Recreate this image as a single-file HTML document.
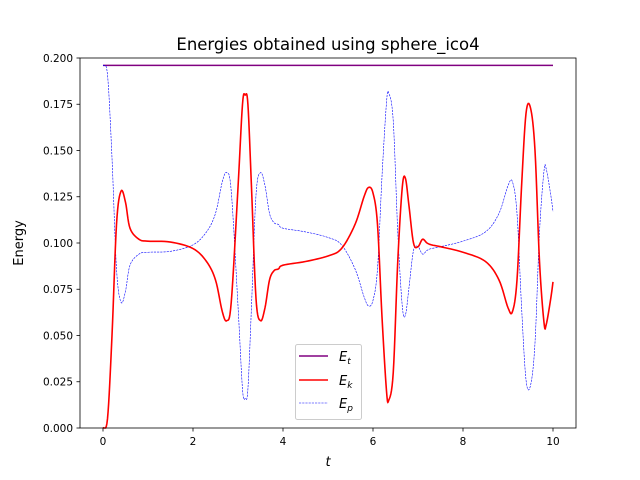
<!DOCTYPE html>
<html><head><style>body{margin:0;background:#fff}svg{display:block;font-family:"DejaVu Sans","Liberation Sans",sans-serif}</style></head>
<body>
<svg id="s" width="640" height="480" xmlns="http://www.w3.org/2000/svg">
<rect width="640" height="480" fill="#fff"/>
<text x="328" y="50" font-size="16.5" text-anchor="middle">Energies obtained using sphere_ico4</text>
<line x1="103" y1="65.4" x2="553" y2="65.4" stroke="#800080" stroke-width="1.5"/>
<path id="ep" fill="none" stroke="#0000ff" stroke-width="0.6" stroke-dasharray="2.2,1"/>
<path id="ek" fill="none" stroke="#ff0000" stroke-width="1.6"/>
<rect x="80" y="58" width="496" height="370" fill="none" stroke="#000" stroke-width="0.8"/>
<g id="ax" font-size="10.5" fill="#000"></g>
<text x="328" y="466" font-size="13" font-style="italic" text-anchor="middle">t</text>
<text transform="translate(23,243) rotate(-90)" font-size="13" text-anchor="middle">Energy</text>
<rect x="295.5" y="344.5" width="66" height="75" rx="2" fill="#fff" fill-opacity="0.8" stroke="#ccc"/>
<line x1="299" y1="356" x2="328" y2="356" stroke="#800080" stroke-width="1.5"/>
<line x1="299" y1="380" x2="328" y2="380" stroke="#ff0000" stroke-width="1.6"/>
<line x1="299" y1="403" x2="328" y2="403" stroke="#0000ff" stroke-width="0.6" stroke-dasharray="2.2,1"/>
<text x="339" y="361" font-size="13" font-style="italic">E<tspan font-size="9" dy="3">t</tspan></text>
<text x="339" y="385" font-size="13" font-style="italic">E<tspan font-size="9" dy="3">k</tspan></text>
<text x="339" y="408" font-size="13" font-style="italic">E<tspan font-size="9" dy="3">p</tspan></text>
</svg>
<script>
var P=[[0,0],[0.1,0.005],[0.2,0.05],[0.3,0.11],[0.4,0.128],[0.5,0.122],[0.6,0.108],[0.8,0.102],[1,0.101],[1.5,0.1005],[2,0.097],[2.3,0.09],[2.5,0.08],[2.65,0.063],[2.75,0.058],[2.85,0.068],[3.0,0.13],[3.1,0.175],[3.16,0.18],[3.22,0.175],[3.3,0.13],[3.4,0.07],[3.5,0.058],[3.6,0.065],[3.7,0.08],[3.8,0.085],[3.9,0.086],[4,0.088],[4.5,0.09],[5,0.093],[5.3,0.097],[5.6,0.11],[5.8,0.125],[5.9,0.13],[6.0,0.127],[6.1,0.11],[6.2,0.06],[6.3,0.02],[6.35,0.015],[6.45,0.03],[6.55,0.09],[6.65,0.13],[6.72,0.135],[6.8,0.12],[6.9,0.1],[7.0,0.098],[7.1,0.102],[7.2,0.1],[7.3,0.099],[7.5,0.098],[8,0.095],[8.5,0.09],[8.8,0.08],[9.0,0.065],[9.1,0.063],[9.2,0.08],[9.3,0.13],[9.4,0.17],[9.5,0.173],[9.6,0.15],[9.7,0.09],[9.8,0.057],[9.85,0.056],[9.95,0.07],[10,0.079]];
function X(t){return 103+45*t}function Y(v){return 428-1850*v}
function path(f){var d="";for(var i=0;i<P.length-1;i++){var p0=P[Math.max(0,i-1)],p1=P[i],p2=P[i+1],p3=P[Math.min(P.length-1,i+2)];
for(var k=0;k<8;k++){var u=k/8,u2=u*u,u3=u2*u;
function cr(a,b,c,e){return 0.5*(2*b+(-a+c)*u+(2*a-5*b+4*c-e)*u2+(-a+3*b-3*c+e)*u3)}
var t=cr(p0[0],p1[0],p2[0],p3[0]),v=Math.max(0,Math.min(0.181,cr(p0[1],p1[1],p2[1],p3[1])));d+=(d?"L":"M")+X(t).toFixed(2)+","+Y(f(v)).toFixed(2);}}
var l=P[P.length-1];d+="L"+X(l[0])+","+Y(f(l[1]));return d;}
document.getElementById("ek").setAttribute("d",path(function(v){return v}));
document.getElementById("ep").setAttribute("d",path(function(v){return 0.196-v}));
var g=document.getElementById("ax"),h="";
for(var i=0;i<=10;i+=2){var x=X(i);h+='<line x1="'+x+'" y1="428" x2="'+x+'" y2="431.5" stroke="#000" stroke-width="0.8"/><text x="'+x+'" y="445" text-anchor="middle">'+i+'</text>';}
for(var j=0;j<=8;j++){var v=j*0.025,y=Y(v);h+='<line x1="76.5" y1="'+y+'" x2="80" y2="'+y+'" stroke="#000" stroke-width="0.8"/><text x="73" y="'+(y+3.8)+'" text-anchor="end">'+v.toFixed(3)+'</text>';}
g.innerHTML=h;
</script>
</body></html>
